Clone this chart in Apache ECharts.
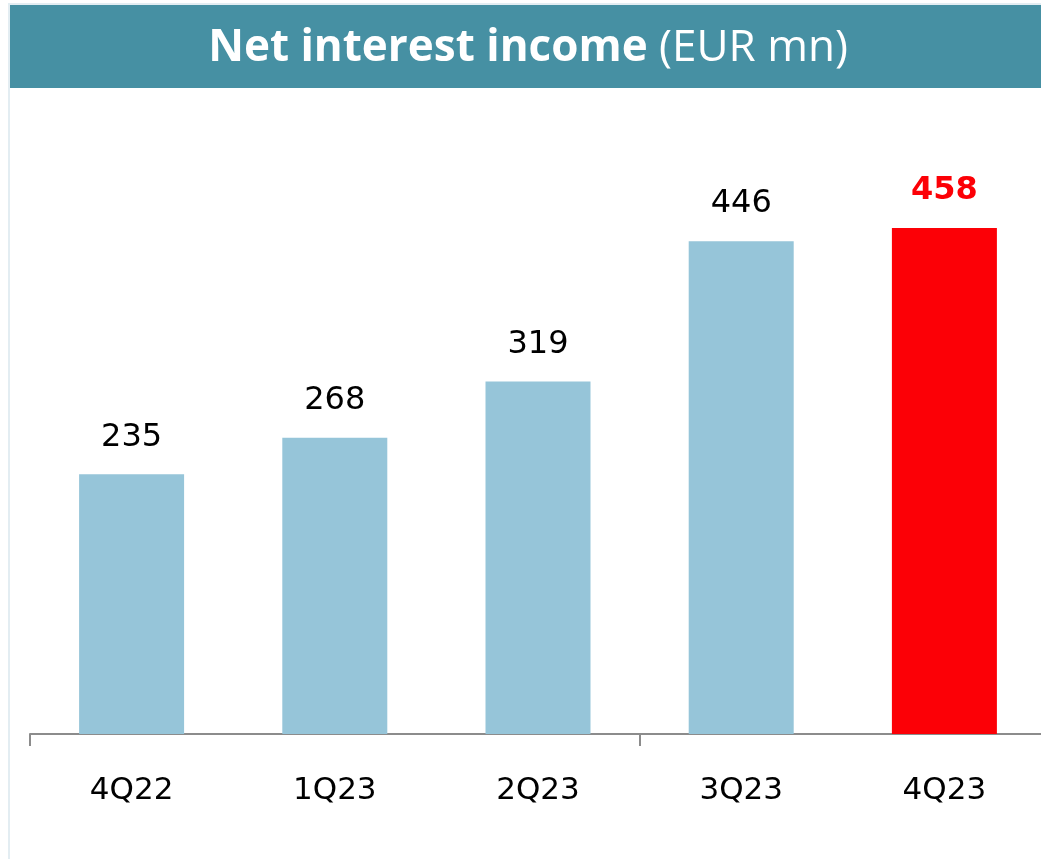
<!DOCTYPE html>
<html>
<head>
<meta charset="utf-8">
<style>
html, body { margin: 0; padding: 0; background: #fff; overflow: hidden; }
#chart { width: 1046px; height: 859px; }
</style>
<script src="https://cdn.jsdelivr.net/npm/echarts@6/dist/echarts.min.js"></script>
</head>
<body>
<div id="chart"></div>
<script>
var quarters = ['4Q22', '1Q23', '2Q23', '3Q23', '4Q23'];
var nii = [235, 268, 319, 446, 458];

var chart = echarts.init(document.getElementById('chart'));

var barData = [];
for (var i = 0; i < nii.length; i++) {
    var last = i === nii.length - 1;
    barData.push({
        value: nii[i],
        itemStyle: { color: last ? '#fc0006' : '#96c5d9' },
        label: last ? { color: '#fc0006', fontWeight: 'bold' } : {}
    });
}

var option = {
    animation: false,
    backgroundColor: '#fff',
    graphic: [
        {
            type: 'rect',
            shape: { x: 8, y: 3, width: 2, height: 856 },
            style: { fill: '#e3edf2' }
        },
        {
            type: 'rect',
            shape: { x: 8, y: 3, width: 1038, height: 2 },
            style: { fill: '#e3edf2' }
        },
        {
            type: 'rect',
            shape: { x: 10, y: 5, width: 1036, height: 83 },
            style: { fill: '#4690a3' }
        },
        {
            type: 'text',
            x: 528,
            y: 48,
            style: {
                text: '{b|Net interest income }{r|(EUR mn)}',
                align: 'center',
                verticalAlign: 'middle',
                rich: {
                    b: { fontFamily: 'Open Sans', fontWeight: 'bold', fontSize: 44, fill: '#fff' },
                    r: { fontFamily: 'Open Sans', fontSize: 44, fill: '#fff' }
                }
            }
        }
    ],
    grid: {
        left: 30,
        right: 0,
        top: 181.5,
        height: 552.5
    },
    xAxis: {
        type: 'category',
        data: quarters,
        axisLine: { lineStyle: { color: '#8c8c8c', width: 2 } },
        axisTick: { show: true, interval: 2, length: 12, lineStyle: { color: '#8c8c8c', width: 2 } },
        axisLabel: {
            color: '#000',
            fontFamily: 'DejaVu Sans',
            fontSize: 31,
            margin: 41
        }
    },
    yAxis: {
        type: 'value',
        min: 0,
        max: 500,
        show: false,
        splitLine: { show: false }
    },
    series: [{
        type: 'bar',
        barWidth: 105,
        data: barData,
        label: {
            show: true,
            position: 'top',
            distance: 21,
            color: '#000',
            fontFamily: 'DejaVu Sans',
            fontSize: 32
        }
    }]
};

chart.setOption(option);
window.addEventListener('resize', chart.resize);
</script>
</body>
</html>
